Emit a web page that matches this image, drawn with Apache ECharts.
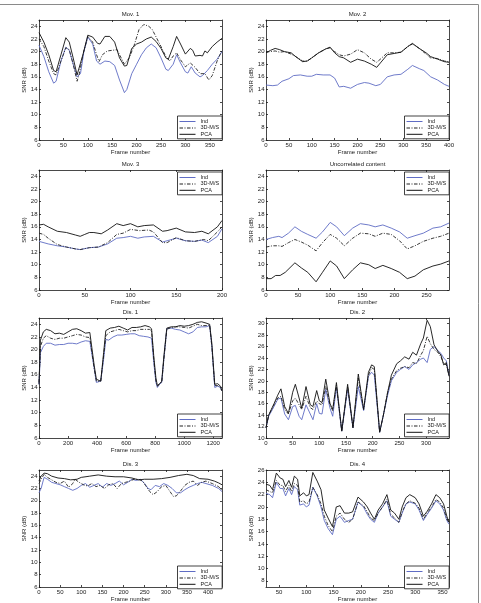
<!DOCTYPE html>
<html><head><meta charset="utf-8">
<script src="https://cdn.jsdelivr.net/npm/echarts@6/dist/echarts.min.js"></script>
<style>html,body{margin:0;padding:0;background:#fff}#c{width:481px;height:603px}</style>
</head><body><div id="c"></div>
<script>
// ---------- tick labels ----------
const snrTicks = [6,8,10,12,14,16,18,20,22,24];
const dis2YTicks = [10,12,14,16,18,20,22,24,26,28,30];
const dis4YTicks = [8,10,12,14,16,18,20,22,24,26];
const mov1XTicks = [0,50,100,150,200,250,300,350];
const mov2XTicks = [0,50,100,150,200,250,300,350,400];
const mov3XTicks = [0,50,100,150,200];
const uncorrXTicks = [0,50,100,150,200,250];
const dis1XTicks = [0,200,400,600,800,1000,1200];
const dis2XTicks = [0,50,100,150,200,250,300];
const dis3XTicks = [0,50,100,150,200,250,300,350,400];
const dis4XTicks = [50,100,150,200,250,300,350];
const seriesNames = ['Ind','3D-M/S','PCA'];

// ---------- Mov. 1 ----------
const mov1IndX = [0,10,20,30,35,45,55,62,70,78,85,92,100,110,118,125,135,145,155,165,175,180,190,200,210,220,230,240,250,260,265,275,282,290,300,305,312,320,330,335,345,355,365,375];
const mov1IndY = [21.0,19.2,16.8,15.0,15.3,18.5,20.7,20.2,18.0,16.0,16.5,20.0,22.3,21.2,18.5,18.0,18.5,18.4,17.8,15.5,13.5,14.0,16.5,18.0,19.5,20.6,21.2,20.6,19.0,17.2,17.0,18.0,19.5,18.2,16.8,16.6,17.6,16.6,16.0,16.2,17.0,18.0,18.8,20.0];
const mov1MsdX = [0,10,20,30,35,45,55,62,70,78,82,90,100,110,118,123,130,140,150,160,165,175,185,195,205,215,225,232,240,250,260,268,275,282,290,300,310,320,330,340,348,355,365,375];
const mov1MsdY = [22.0,20.8,18.5,16.5,16.3,18.5,20.6,20.3,18.0,15.3,16.3,19.5,22.4,21.5,19.5,18.4,19.5,20.1,20.2,20.3,19.5,18.0,19.0,21.0,23.5,24.3,24.0,23.5,22.3,20.8,19.2,18.5,19.3,19.8,18.7,17.6,18.2,17.5,16.5,16.5,15.5,16.2,18.5,20.2];
const mov1PcaX = [0,10,20,30,35,45,55,62,70,78,82,90,100,110,120,125,135,145,155,165,175,180,190,200,210,220,230,240,250,260,265,275,282,290,300,310,315,320,330,335,340,345,355,365,375];
const mov1PcaY = [23.0,21.5,19.5,17.0,16.8,19.5,22.2,21.5,19.0,16.3,16.5,19.5,22.6,22.3,21.3,21.2,22.4,22.4,21.5,19.0,17.7,17.8,20.5,21.2,21.5,22.0,22.3,21.6,20.5,19.0,18.8,20.8,22.4,21.2,19.6,20.5,20.2,19.3,19.4,19.3,20.1,19.8,20.8,21.5,22.1];

// ---------- Mov. 2 ----------
const mov2IndX = [0,15,25,35,50,60,75,90,100,110,125,140,150,160,170,185,200,215,225,240,250,265,280,295,310,320,335,345,360,375,390,400];
const mov2IndY = [14.7,14.6,14.7,15.3,15.7,16.2,16.3,16.1,16.1,16.4,16.3,16.3,15.8,14.4,14.5,14.2,14.8,15.1,15.0,14.6,14.8,16.0,16.3,16.4,17.2,17.8,17.3,17.0,16.0,15.5,14.8,14.5];
const mov2MsdX = [0,10,20,30,40,55,65,80,90,100,115,130,140,150,160,170,185,200,215,230,242,250,265,280,295,310,320,335,350,360,375,390,400];
const mov2MsdY = [19.9,20.0,20.1,19.9,20.0,19.6,19.2,18.5,18.5,19.0,19.8,20.4,20.6,20.0,19.5,19.3,19.6,20.3,19.8,18.8,18.3,18.8,19.8,19.8,19.9,20.8,21.2,20.5,19.6,19.0,18.9,18.5,18.4];
const mov2PcaX = [0,10,20,30,40,55,65,80,90,100,115,130,140,150,160,170,185,200,215,230,242,250,265,280,295,310,320,335,350,360,375,390,400];
const mov2PcaY = [19.8,20.2,20.5,20.3,20.0,19.8,19.2,18.4,18.5,19.0,19.8,20.4,20.7,19.8,19.2,19.0,18.3,18.8,18.5,18.0,17.5,18.2,19.5,19.7,19.9,20.8,21.3,20.5,19.8,19.2,18.8,18.4,18.3];

// ---------- Mov. 3 ----------
const mov3IndX = [0,10,20,30,40,45,55,65,75,85,92,100,108,115,125,135,140,150,160,170,178,185,195,200];
const mov3IndY = [13.7,13.3,13.0,12.8,12.5,12.4,12.7,12.8,13.3,14.2,14.3,14.5,14.2,14.4,14.5,13.6,13.8,14.2,13.8,13.7,13.9,13.5,14.5,15.7];
const mov3MsdX = [0,5,10,20,30,40,45,55,65,75,85,92,100,110,120,125,135,140,150,160,170,180,185,195,200];
const mov3MsdY = [15.0,14.8,14.2,13.2,12.8,12.5,12.4,12.7,12.8,13.5,14.8,15.0,15.6,15.4,15.5,15.2,13.5,13.5,14.3,13.8,13.7,14.0,13.8,15.2,16.0];
const mov3PcaX = [0,5,10,20,30,40,45,50,55,60,68,75,85,92,100,108,115,125,135,140,150,160,170,178,185,195,200];
const mov3PcaY = [16.3,16.4,16.0,15.3,15.1,14.7,14.5,14.8,15.1,15.1,14.9,15.5,16.5,16.2,16.5,16.0,16.2,16.3,15.3,15.4,15.8,15.2,15.1,15.3,14.9,16.0,17.0];

// ---------- Uncorrelated content ----------
const uncIndX = [0,10,20,25,35,45,55,65,78,88,100,110,122,135,147,160,170,182,195,208,220,232,245,260,272,285];
const uncIndY = [14.0,14.3,14.5,14.3,15.0,16.0,15.3,14.8,14.2,15.2,16.7,16.0,14.6,15.8,16.5,16.3,16.0,16.3,15.8,15.2,14.2,14.6,15.0,15.8,16.0,16.6];
const uncMsdX = [0,10,20,25,35,45,55,65,78,88,100,110,122,135,147,160,170,182,195,208,220,232,245,260,272,285];
const uncMsdY = [12.8,13.0,13.0,12.9,13.5,14.0,13.6,13.1,12.2,13.5,14.8,14.2,13.0,14.2,15.0,14.9,14.5,15.0,14.8,13.8,12.5,13.0,13.7,14.2,14.5,15.0];
const uncPcaX = [0,8,15,22,30,45,55,65,78,88,100,110,122,135,147,160,170,182,195,208,220,232,245,260,272,285];
const uncPcaY = [7.8,7.8,8.3,8.3,8.8,10.3,9.5,8.8,7.3,8.8,10.6,9.8,7.8,9.2,10.3,10.0,9.4,9.9,9.4,8.8,7.8,8.2,9.2,9.8,10.1,10.6];

// ---------- Dis. 1 ----------
const dis1IndX = [0,10,30,50,80,110,140,170,200,230,260,290,320,350,360,380,395,405,425,445,460,480,510,540,570,600,630,660,690,720,750,775,790,805,815,830,845,860,880,910,940,970,1000,1030,1060,1090,1120,1150,1175,1190,1210,1230,1250,1258];
const dis1IndY = [14.5,19.5,20.5,21.0,21.0,20.7,20.8,20.8,21.0,21.0,20.9,21.2,21.4,21.3,21.2,17.0,14.8,14.9,15.0,18.5,21.6,21.5,22.0,22.3,22.3,22.4,22.5,22.5,22.2,22.1,22.0,21.8,18.0,14.8,14.0,14.5,14.8,18.5,23.3,23.4,23.2,23.1,22.8,22.5,22.8,23.5,23.6,23.6,23.8,20.5,14.0,14.2,14.0,13.5];
const dis1MsdX = [0,10,30,50,80,110,140,170,200,230,260,290,320,350,360,380,395,405,425,445,460,490,520,550,580,610,640,670,700,730,760,775,790,805,815,830,845,860,880,910,940,970,1000,1030,1060,1090,1120,1150,1175,1190,1210,1230,1250,1258];
const dis1MsdY = [14.8,20.5,21.8,22.2,21.8,21.6,21.8,21.8,22.0,22.2,22.4,22.3,22.0,21.9,21.8,17.0,15.0,15.0,15.0,19.0,22.2,22.8,23.0,23.2,23.0,22.8,23.0,23.0,23.2,23.2,23.2,23.0,18.5,15.0,14.2,14.5,14.8,18.5,23.2,23.5,23.6,23.6,23.5,23.4,23.7,24.0,23.8,23.8,23.9,20.5,14.3,14.3,14.0,13.5];
const dis1PcaX = [0,10,30,50,80,110,140,170,200,230,260,290,320,350,360,380,395,405,425,445,460,490,520,550,580,610,640,670,700,730,760,775,790,805,815,830,845,860,880,910,940,970,1000,1030,1060,1090,1120,1150,1175,1190,1210,1230,1250,1258];
const dis1PcaY = [14.5,21.5,22.8,23.2,23.0,22.5,22.6,22.4,22.8,23.2,23.3,23.0,22.6,22.7,22.4,17.5,15.3,15.2,15.0,19.5,23.0,23.4,23.5,23.7,23.4,23.1,23.5,23.5,23.6,23.8,23.6,23.3,19.0,15.5,14.3,14.6,15.0,19.0,23.4,23.6,23.6,23.8,23.7,23.8,24.0,24.3,24.4,24.2,24.0,21.0,14.5,14.6,14.2,13.5];

// ---------- Dis. 2 ----------
const dis2X = [0,5,15,22,28,35,42,50,55,62,67,75,83,88,95,100,105,112,120,125,132,142,153,163,173,183,192,198,203,213,220,228,235,245,252,260,268,275,282,290,295,302,308,315,322,328,333,338,343];
const dis2IndY = [11.8,13.8,15.5,16.8,17.0,14.2,13.2,15.5,15.7,13.8,13.2,15.8,14.2,13.2,16.0,14.3,14.2,18.5,15.2,13.8,18.8,11.2,18.5,11.8,19.0,14.8,20.8,21.5,21.0,11.0,14,17.5,20,21.5,22.0,22.5,22.0,22.8,23.2,23.8,24.0,23.2,25.5,26.0,25.3,24.8,24.0,23.5,21];
const dis2MsdY = [11.8,14,15.8,17.0,17.3,15.0,14.2,16.5,17.0,15.8,15.0,17.3,15.3,15.0,16.5,16.0,15.8,19.0,15.8,14.8,19.2,11.2,19.0,11.8,20.5,15.0,21.0,22.3,22.0,11.0,14,18.0,20.3,21.8,22.2,22.5,22.3,23.2,23.0,24.5,25.3,27.8,26.5,25.5,25.0,24.2,23.0,22.8,21];
const dis2PcaY = [11.8,14,16,17.5,18.6,15.5,14.3,18.0,19.4,17,15.2,19.0,15.8,15.5,18.3,16.5,16.2,20.3,16.0,15.0,19.7,11.2,19.4,11.8,21.2,15.0,21.5,22.8,22.5,11.0,14,18.0,21.0,23,23.5,24.2,23.8,25.0,24.5,26.5,27.5,30.6,29.5,26.3,25.2,24.5,22.8,23.2,20.8];

// ---------- Dis. 3 ----------
const dis3IndX = [0,5,12,20,30,40,50,60,70,80,90,100,110,120,130,140,150,160,170,180,190,200,210,220,230,240,250,258,265,275,285,295,305,315,325,335,345,355,365,375,385,395,410,425,433];
const dis3IndY = [21.3,22.0,23.8,23.5,23.0,22.8,22.6,22.3,22.0,21.7,22.0,22.5,22.8,22.2,22.5,22.8,22.2,22.8,22.5,22.8,23.2,22.6,23.0,23.5,23.3,23.5,22.8,22.0,21.8,22.5,22.3,22.8,22.5,22.0,21.3,21.3,21.8,22.2,22.5,22.8,23.0,22.8,22.5,22.0,21.5];
const dis3MsdX = [0,5,12,20,30,40,50,60,70,80,85,95,105,115,125,135,145,155,165,175,185,195,205,215,225,235,245,252,262,270,280,290,300,310,318,325,335,345,355,365,375,385,395,410,425,433];
const dis3MsdY = [22.8,23.5,24.3,23.8,23.4,23.0,22.8,23.2,22.2,22.8,23.5,23.0,22.6,22.4,22.8,22.3,22.5,22.0,22.6,22.8,22.0,22.8,23.0,23.2,23.5,23.5,23.2,22.5,21.5,21.0,21.5,22.3,22.5,21.5,20.7,20.8,21.6,22.5,23.0,23.2,22.5,23.0,23.2,22.8,22.3,21.7];
const dis3PcaX = [0,5,12,20,30,45,60,75,90,100,120,140,160,180,200,220,235,250,270,290,310,330,350,365,380,400,415,425,433];
const dis3PcaY = [23.2,24.0,24.5,24.4,24.0,23.7,23.6,23.4,23.5,23.8,24.0,24.2,24.0,23.9,23.9,23.7,23.4,23.5,23.5,23.6,23.8,24.1,24.3,24.1,23.6,23.5,23.2,22.9,22.6];

// ---------- Dis. 4 ----------
const dis4X = [26,33,38,45,52,57,62,68,73,78,84,88,95,100,105,112,120,127,133,140,148,155,162,170,178,185,195,205,212,218,225,232,240,248,255,262,270,276,283,290,300,307,315,322,330,338,345,352,358,362];
const dis4IndY = [22.2,22.0,21.5,24.0,23.0,23.0,21.8,23.0,22.0,23.3,22.8,20.3,20.5,20.0,20.3,23.2,21.8,20.0,17.8,16.5,15.5,18.0,18.5,17.5,17.8,18.0,20.8,20.0,18.8,18.0,17.5,19.0,20.0,21.0,18.5,18.0,17.5,19.0,20.5,20.8,20.5,19.5,17.8,18.8,19.8,21.0,20.5,19.5,17.8,17.2];
const dis4MsdY = [22.8,22.5,22.3,24.3,23.5,23.5,22.5,23.5,22.5,23.8,23.5,20.8,21.0,20.5,20.8,23.2,22.0,20.5,18.5,17.0,16.0,18.5,19.0,18.0,17.5,18.0,20.8,20.2,19.2,18.2,17.8,19.0,20.0,21.2,18.8,18.2,17.5,19.2,20.5,21.0,20.6,19.8,18.0,19.0,20.0,21.2,20.8,19.8,18.0,17.5];
const dis4PcaY = [23.7,23.5,22.8,25.5,24.7,24.5,23.3,24.3,23.2,25.0,24.5,21.8,22.3,21.8,22.0,25.6,24.2,22.8,19.5,18.2,16.8,20.0,20.2,19.0,19.0,19.2,21.6,20.8,20.0,19.0,18.0,19.5,20.5,22.0,19.5,19.0,18.0,20.0,21.5,22.0,21.5,20.5,18.5,19.3,20.5,22.0,21.5,20.5,18.5,17.5];

// ---------- panel table (built from the arrays above) ----------
const panels = [
  {title:'Mov. 1', col:0,row:0, xMin:0,xMax:375, xTicks:mov1XTicks, yMin:6,yMax:25,yTicks:snrTicks, legendTop:false,
   lines:[[mov1IndX,mov1IndY],[mov1MsdX,mov1MsdY],[mov1PcaX,mov1PcaY]]},
  {title:'Mov. 2', col:1,row:0, xMin:0,xMax:400, xTicks:mov2XTicks, yMin:6,yMax:25,yTicks:snrTicks, legendTop:false,
   lines:[[mov2IndX,mov2IndY],[mov2MsdX,mov2MsdY],[mov2PcaX,mov2PcaY]]},
  {title:'Mov. 3', col:0,row:1, xMin:0,xMax:200, xTicks:mov3XTicks, yMin:6,yMax:25,yTicks:snrTicks, legendTop:true,
   lines:[[mov3IndX,mov3IndY],[mov3MsdX,mov3MsdY],[mov3PcaX,mov3PcaY]]},
  {title:'Uncorrelated content', col:1,row:1, xMin:0,xMax:285, xTicks:uncorrXTicks, yMin:6,yMax:25,yTicks:snrTicks, legendTop:true,
   lines:[[uncIndX,uncIndY],[uncMsdX,uncMsdY],[uncPcaX,uncPcaY]]},
  {title:'Dis. 1', col:0,row:2, xMin:0,xMax:1260, xTicks:dis1XTicks, yMin:6,yMax:25,yTicks:snrTicks, legendTop:false,
   lines:[[dis1IndX,dis1IndY],[dis1MsdX,dis1MsdY],[dis1PcaX,dis1PcaY]]},
  {title:'Dis. 2', col:1,row:2, xMin:0,xMax:343, xTicks:dis2XTicks, yMin:10,yMax:31,yTicks:dis2YTicks, legendTop:false,
   lines:[[dis2X,dis2IndY],[dis2X,dis2MsdY],[dis2X,dis2PcaY]]},
  {title:'Dis. 3', col:0,row:3, xMin:0,xMax:433, xTicks:dis3XTicks, yMin:6,yMax:25,yTicks:snrTicks, legendTop:false,
   lines:[[dis3IndX,dis3IndY],[dis3MsdX,dis3MsdY],[dis3PcaX,dis3PcaY]]},
  {title:'Dis. 4', col:1,row:3, xMin:26,xMax:362, xTicks:dis4XTicks, yMin:7,yMax:26,yTicks:dis4YTicks, legendTop:false,
   lines:[[dis4X,dis4IndY],[dis4X,dis4MsdY],[dis4X,dis4PcaY]]}
];

const FONT = '"Liberation Sans", Arial, Helvetica, sans-serif';
const INK = '#1a1a1a';
const lineStyles = [
  {color:'#5f6cc4', width:0.9, type:'solid'},
  {color:'#222', width:0.9, type:[3.5,1.5,1,1.5]},
  {color:'#111', width:0.9, type:'solid'}
];
// legend sample glyphs (16 x 6 box, thin bar through the middle)
const SOLID_ICON = 'path://M0,0L0,0M0,2.5L16,2.5L16,3.5L0,3.5ZM16,6L16,6';
const DASHDOT_ICON = 'path://M0,0L0,0M0,2.5L3.5,2.5L3.5,3.5L0,3.5ZM5,2.5L6,2.5L6,3.5L5,3.5ZM7.5,2.5L11,2.5L11,3.5L7.5,3.5ZM12.5,2.5L13.5,2.5L13.5,3.5L12.5,3.5ZM15,2.5L16,2.5L16,3.5L15,3.5ZM16,6L16,6';
const legendIcons = [SOLID_ICON, DASHDOT_ICON, SOLID_ICON];
const COL_LEFT = [39, 266], ROW_TOP = [20, 170, 318, 470], GW = 183, GH = 120;
const plain = v => String(v);

const option = {
  animation:false, backgroundColor:'#fff',
  grid:[], xAxis:[], yAxis:[], series:[], legend:[],
  graphic:[
    {type:'line', shape:{x1:0,y1:4.5,x2:478.5,y2:4.5}, style:{stroke:'#8a8a8a', lineWidth:1}, silent:true},
    {type:'line', shape:{x1:478.5,y1:4.5,x2:478.5,y2:603}, style:{stroke:'#8a8a8a', lineWidth:1}, silent:true}
  ]
};

panels.forEach((p, i) => {
  const gl = COL_LEFT[p.col], gt = ROW_TOP[p.row];
  option.grid.push({left:gl, top:gt, width:GW, height:GH});
  const axisLine = {show:true, onZero:false, lineStyle:{color:INK, width:0.8}};
  const tick = vals => ({show:true, inside:true, length:2, customValues:vals, lineStyle:{color:INK, width:0.8}});
  const txt = {fontSize:6, color:INK, fontFamily:FONT};
  option.xAxis.push({type:'value', gridIndex:i, min:p.xMin, max:p.xMax, position:'bottom',
    axisLine, axisTick:tick(p.xTicks), axisLabel:Object.assign({customValues:p.xTicks, margin:2, formatter:plain}, txt),
    splitLine:{show:false}, name:'Frame number', nameLocation:'middle', nameGap:9, nameTextStyle:txt});
  option.xAxis.push({type:'value', gridIndex:i, min:p.xMin, max:p.xMax, position:'top',
    axisLine, axisTick:tick(p.xTicks), axisLabel:{show:false}, splitLine:{show:false},
    name:p.title, nameLocation:'middle', nameGap:3, nameTextStyle:txt});
  option.yAxis.push({type:'value', gridIndex:i, min:p.yMin, max:p.yMax, position:'left',
    axisLine, axisTick:tick(p.yTicks), axisLabel:Object.assign({customValues:p.yTicks, margin:1.5, formatter:plain}, txt),
    splitLine:{show:false}, name:'SNR (dB)', nameLocation:'middle', nameGap:6, nameTextStyle:txt});
  option.yAxis.push({type:'value', gridIndex:i, min:p.yMin, max:p.yMax, position:'right',
    axisLine, axisTick:tick(p.yTicks), axisLabel:{show:false}, splitLine:{show:false}});
  p.lines.forEach((ln, k) => {
    option.series.push({type:'line', name:seriesNames[k], xAxisIndex:2*i, yAxisIndex:2*i,
      data: ln[0].map((x, j) => [x, ln[1][j]]), symbol:'none', showSymbol:false, silent:true,
      lineStyle:lineStyles[k], itemStyle:{color:lineStyles[k].color}, color:lineStyles[k].color, z:2+k});
  });
  option.legend.push({orient:'vertical', left:gl+GW-44.5, top: p.legendTop ? gt+2 : gt+GH-24,
    data: seriesNames.map((n, k) => ({name:n, icon:legendIcons[k]})),
    itemWidth:16, itemHeight:6, itemGap:0.4, itemTextGap:3,
    padding:[2.5,3,1.5,2], borderColor:'#111', borderWidth:0.8, backgroundColor:'#fff',
    textStyle:{fontSize:5.5, lineHeight:6, color:INK, fontFamily:FONT}, selectedMode:false});
});

const chart = echarts.init(document.getElementById('c'), null, {renderer:'canvas'});
chart.setOption(option);
</script></body></html>
